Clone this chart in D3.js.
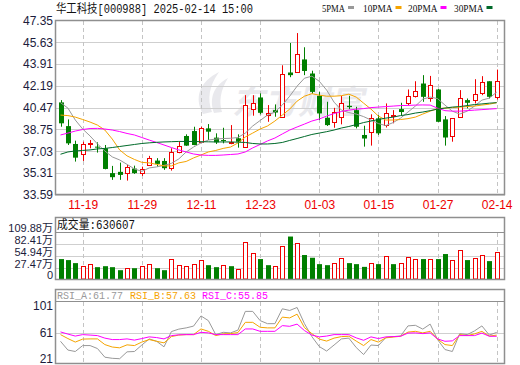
<!DOCTYPE html>
<html><head><meta charset="utf-8">
<script src="https://cdn.jsdelivr.net/npm/d3@7"></script>
<style>body{margin:0;background:#fff}svg{display:block}</style>
</head><body>
<svg id="c" width="520" height="365"></svg>
<script>
// ---------------- data ----------------
const title = "华工科技[000988] 2025-02-14 15:00";
const dates = ["11-14","11-15","11-18","11-19","11-20","11-21","11-22","11-25","11-26","11-27","11-28","11-29",
"12-02","12-03","12-04","12-05","12-06","12-09","12-10","12-11","12-12","12-13","12-16","12-17","12-18","12-19","12-20","12-23",
"12-24","12-25","12-26","12-27","12-30","12-31","01-02","01-03","01-06","01-07","01-08","01-09","01-10","01-13","01-14","01-15",
"01-16","01-17","01-20","01-21","01-22","01-23","01-24","01-27","02-05","02-06","02-07","02-10","02-11","02-12","02-13","02-14"];
const dateTicks = ["11-19","11-29","12-11","12-23","01-03","01-15","01-27","02-14"];
const open  = [40.88,39.01,37.60,36.79,37.56,37.39,37.26,35.30,35.40,35.30,35.66,35.34,35.95,36.29,36.26,35.69,36.99,38.23,38.62,37.78,
38.83,38.10,37.91,37.70,38.05,37.39,40.35,41.27,39.88,40.27,39.70,43.24,43.29,44.27,43.16,41.40,39.67,39.31,39.75,40.61,
40.27,38.31,38.52,39.62,39.09,39.82,40.35,40.80,41.41,42.37,41.22,41.90,39.54,38.25,39.75,41.06,41.10,41.59,42.55,41.27];
const close = [39.23,37.65,36.52,37.58,37.64,37.31,35.63,34.98,35.16,35.81,35.30,35.66,36.50,36.03,35.69,36.95,37.44,37.47,37.52,38.83,
38.57,37.73,37.84,37.76,37.78,40.67,40.80,40.06,40.01,40.08,43.16,43.03,44.73,43.36,41.71,40.01,39.09,40.09,40.80,40.51,
38.96,38.03,39.64,38.44,40.01,39.86,40.12,41.41,41.81,41.32,42.24,39.35,38.11,39.62,41.19,40.85,41.51,42.51,41.32,42.59];
const high  = [41.06,39.54,37.86,37.78,37.91,37.73,37.52,35.87,36.13,35.95,35.89,35.81,36.66,36.48,36.48,37.26,37.78,38.36,38.96,38.96,
39.17,38.44,38.88,39.09,38.36,41.45,41.45,41.59,40.67,40.72,43.81,45.57,46.35,45.23,43.38,41.71,40.93,40.45,41.40,41.40,
40.53,39.04,39.94,39.88,40.80,40.27,40.85,41.90,42.55,43.03,42.97,41.96,39.80,39.62,41.85,41.19,42.71,42.95,42.55,43.47];
const low   = [38.96,37.52,36.21,36.26,37.26,36.92,35.60,34.77,34.77,34.71,35.24,35.08,35.87,35.81,35.56,35.50,36.87,37.45,37.50,37.73,
37.91,37.60,37.65,37.58,37.31,37.37,39.83,39.94,39.35,39.75,39.68,42.87,43.27,43.03,41.57,39.49,39.02,38.88,39.15,40.35,
38.83,37.39,37.47,38.31,38.90,39.23,39.88,40.67,41.27,40.93,40.93,39.33,37.47,37.78,39.70,40.41,40.80,41.45,41.19,41.11];
const ma5  = [40.86,40.43,39.49,38.78,38.23,37.60,37.05,36.58,36.34,35.99,35.63,35.44,35.71,35.79,35.91,36.07,36.42,36.97,37.36,37.68,
37.91,37.99,38.03,38.05,38.11,38.46,39.02,39.45,39.88,40.12,40.67,41.37,42.16,42.79,42.95,42.55,41.85,40.90,40.27,40.08,
39.96,39.76,39.49,39.21,39.05,39.29,39.64,40.12,40.59,41.14,41.30,41.18,40.67,40.19,39.96,40.19,40.59,41.06,41.22,41.69];
const ma10 = [39.88,39.84,39.72,39.53,39.33,39.09,38.70,37.99,37.13,36.66,36.38,36.15,36.11,35.99,35.87,35.87,36.11,36.22,36.50,36.73,
36.97,37.09,37.25,37.36,37.68,38.15,38.46,38.78,39.02,39.41,39.88,40.35,40.98,41.37,41.57,41.45,41.37,41.37,41.41,41.53,
41.30,40.82,40.35,39.80,39.49,39.49,39.53,39.60,39.72,39.96,40.19,40.39,40.43,40.47,40.51,40.55,40.59,40.67,40.74,40.86];
const ma20 = [38.31,38.46,38.62,38.74,38.82,38.83,38.78,38.70,38.58,38.43,38.31,38.11,37.91,37.72,37.52,37.32,37.13,36.97,36.81,36.73,
36.70,36.70,36.73,36.77,36.81,36.97,37.29,37.56,37.84,38.07,38.39,38.70,38.94,39.17,39.41,39.57,39.80,40.00,40.16,40.27,
40.35,40.39,40.47,40.51,40.55,40.59,40.63,40.64,40.67,40.68,40.67,40.43,40.23,40.19,40.19,40.23,40.27,40.31,40.35,40.39];
const ma30 = [36.79,36.97,37.05,37.09,37.13,37.21,37.25,37.32,37.40,37.48,37.56,37.64,37.69,37.73,37.76,37.78,37.80,37.80,37.80,37.78,
37.77,37.76,37.76,37.76,37.74,37.72,37.64,37.60,37.60,37.64,37.72,37.88,38.03,38.19,38.35,38.46,38.57,38.70,38.86,38.98,
39.13,39.29,39.41,39.53,39.64,39.72,39.84,39.92,40.04,40.12,40.23,40.35,40.43,40.51,40.55,40.63,40.71,40.76,40.82,40.86];
// volume in 万 (10k shares)
const volume = [47.5,45.1,38.0,30.8,34.8,28.5,30.8,28.5,21.4,27.7,26.1,30.8,34.8,26.1,21.4,47.5,33.2,30.8,34.8,44.3,
33.2,28.5,33.2,30.8,25.3,87.1,61.0,47.5,33.2,30.8,78.3,100.4,84.7,57.0,50.6,35.6,33.2,37.2,49.1,38.0,
35.6,29.2,37.2,35.6,54.6,35.6,37.2,51.5,47.5,47.5,47.5,47.5,59.3,44.3,68.1,45.1,49.8,56.2,42.7,63.0607];
// 1 = up day (red), 0 = down day (green) for volume
const volUp = [0,0,0,1,1,0,0,0,0,1,0,1,1,0,0,1,1,1,1,1,0,0,1,0,1,1,1,0,0,1,1,0,1,0,0,0,0,1,1,0,0,0,1,0,1,0,1,1,1,0,1,0,0,1,1,0,1,1,0,1];
const rsiA = [48.3,35.0,32.8,41.8,41.8,37.3,24.2,22.5,21.9,32.3,32.8,42.6,51.9,48.3,39.9,63.0,66.7,68.6,71.3,86.7,
79.6,58.4,61.9,61.0,65.2,93.6,93.6,79.6,75.0,75.0,97.5,95.0,99.5,75.0,55.4,40.3,33.5,42.6,51.9,53.1,
38.8,28.2,42.6,41.8,53.9,55.4,56.2,71.6,72.5,66.7,74.3,50.9,35.8,32.8,59.9,58.4,64.0,71.6,57.7,61.77];
const rsiB = [58.4,52.4,47.1,51.6,51.9,51.9,43.3,39.6,38.4,42.9,41.8,47.1,50.9,48.3,45.9,55.4,57.7,58.4,58.4,67.0,
63.4,56.9,59.5,59.9,61.5,77.0,77.0,69.5,68.6,68.6,84.9,83.7,89.4,69.0,59.9,51.6,48.6,53.1,55.4,55.9,
48.6,41.8,50.9,47.1,53.5,54.7,55.9,62.2,63.4,61.0,63.4,51.6,43.3,41.8,58.4,56.9,59.5,63.3,56.2,57.63];
const rsiC = [62.5,59.2,56.2,58.4,57.7,56.9,53.1,50.9,50.9,51.9,50.1,52.4,55.0,53.9,51.9,56.9,58.1,58.4,58.4,61.9,
61.0,58.4,58.4,58.4,58.4,67.0,67.0,63.4,63.4,63.4,72.0,71.0,74.3,64.5,57.7,55.0,56.2,58.4,58.4,58.4,
53.5,49.8,55.0,52.4,55.0,55.4,55.9,60.7,61.0,59.9,61.0,51.9,48.3,48.9,56.9,56.9,56.9,60.7,55.9,55.85];
const priceTicks = [47.35,45.63,43.91,42.19,40.47,38.75,37.03,35.31,33.59];
const volTicks = [0,27.47,54.94,82.41,109.88];
const rsiTicks = [21,61,101];
const maNames = ["5PMA","10PMA","20PMA","30PMA"];
const rsiNames = ["RSI_A","RSI_B","RSI_C"];

// ---------------- layout ----------------
const L = 55, R = 505;
const C_RED = "#f00000", C_GREEN = "#007f00";
const maColors = ["#999999","#f5a400","#ff00ff","#006a2a"];
const rsiColors = ["#999999","#f5a400","#ff00ff"];
const GRID = "#cfcfcf", BORDER = "#8f8f8f";
const svg = d3.select("#c");

const x = d3.scalePoint().domain(dates).range([60.5, 496.7]);
const y = d3.scaleLinear().domain([33.59, 47.35]).range([194.8, 20.4]);
const vy = d3.scaleLinear().domain([0, 109.88]).range([279.3, 232.5]);
const ry = d3.scaleLinear().domain([21, 101]).range([359.3, 306.5]);
const cxr = d => Math.round(x(d));

// watermark
const wm = svg.append("g").attr("fill", "#e9e9ed");
wm.append("path").attr("d", "M203,114 C194,98 199,82 219,72 C209,86 207,99 212,112 Z M214,113 C209,99 213,86 228,78 C220,91 219,102 222,112 Z");
wm.append("g").attr("transform", "translate(232,114) skewX(-12)")
  .append("text").attr("font-family", "Noto Sans CJK SC").attr("font-weight", "bold")
  .attr("font-size", 33).attr("textLength", 132).attr("lengthAdjust", "spacingAndGlyphs").text("东方财富");

// ---------------- main panel grid ----------------
const gMain = svg.append("g");
gMain.selectAll("line.hg").data(priceTicks).join("line")
  .attr("x1", L).attr("x2", R).attr("y1", d => Math.round(y(d)) + 0.5).attr("y2", d => Math.round(y(d)) + 0.5)
  .attr("stroke", GRID);
function vgrid(g, y1, y2) {
  g.selectAll("line.vg").data(dateTicks).join("line")
    .attr("x1", d => cxr(d) + 0.5).attr("x2", d => cxr(d) + 0.5).attr("y1", y1).attr("y2", y2)
    .attr("stroke", "#c4c4c4").attr("stroke-dasharray", "4,3");
}
vgrid(gMain, 21, 194);

// price axis labels
const ya = svg.append("g").attr("transform", `translate(${L - 2},0)`)
  .call(d3.axisLeft(y).tickValues(priceTicks).tickSize(0).tickPadding(0).tickFormat(d3.format(".2f")));
ya.select(".domain").remove();
ya.selectAll("text").attr("font-family", "Liberation Sans, Arial").attr("font-size", 12).attr("fill", "#1c1c3c");

// date labels
const xa = svg.append("g").attr("transform", "translate(0,195)")
  .call(d3.axisBottom(x).tickValues(dateTicks).tickSize(0).tickPadding(5));
xa.select(".domain").remove();
xa.selectAll("text").attr("font-family", "Liberation Sans, Arial").attr("font-size", 12).attr("fill", "#ee0000");

// ---------------- candles ----------------
const idx = d3.range(dates.length);
const gC = svg.append("g");
gC.selectAll("line.wick").data(idx).join("line")
  .attr("x1", i => cxr(dates[i]) + 0.5).attr("x2", i => cxr(dates[i]) + 0.5)
  .attr("y1", i => y(high[i])).attr("y2", i => y(low[i]))
  .attr("stroke", i => close[i] >= open[i] ? C_RED : C_GREEN).attr("stroke-width", 1);
gC.selectAll("rect.body").data(idx).join("rect")
  .each(function (i) {
    const up = close[i] >= open[i];
    const top = y(Math.max(open[i], close[i])), bot = y(Math.min(open[i], close[i]));
    const c = cxr(dates[i]);
    const s = d3.select(this);
    if (up) {
      s.attr("x", c - 1.5).attr("width", 4).attr("y", Math.round(top) + 0.5)
       .attr("height", Math.max(1, Math.round(bot) - Math.round(top)))
       .attr("fill", "#fff").attr("stroke", C_RED).attr("stroke-width", 1);
    } else {
      s.attr("x", c - 2).attr("width", 5).attr("y", top).attr("height", Math.max(1, bot - top))
       .attr("fill", C_GREEN);
    }
  });

// MA lines
const maData = [ma5, ma10, ma20, ma30];
const line = d3.line().x((d, i) => x(dates[i])).y(d => y(d));
svg.append("g").selectAll("path").data(maData).join("path")
  .attr("d", d => line(d)).attr("fill", "none")
  .attr("stroke", (d, k) => maColors[k]).attr("stroke-width", 1);

// main border
svg.append("rect").attr("x", L + 0.5).attr("y", 20.5).attr("width", R - L - 1).attr("height", 174)
  .attr("fill", "none").attr("stroke", BORDER).attr("stroke-width", 1.5);

// title
svg.append("text").attr("x", 56).attr("y", 13).attr("font-family", "Liberation Mono, Noto Sans CJK SC")
  .attr("font-size", 12).attr("fill", "#111").attr("textLength", 197).attr("lengthAdjust", "spacingAndGlyphs").text(title);

// legend
const legX = [322, 363, 408, 454];
const leg = svg.append("g").selectAll("g").data(maNames).join("g")
  .attr("transform", (d, k) => `translate(${legX[k]},0)`);
leg.append("text").attr("x", 0).attr("y", 12).attr("font-family", "Liberation Serif, Times New Roman")
  .attr("font-size", 10).attr("fill", "#111").attr("textLength", (d) => d.length === 4 ? 23 : 29.5)
  .attr("lengthAdjust", "spacingAndGlyphs").text(d => d);
leg.append("rect").attr("x", d => (d.length === 4 ? 23 : 29.5) + 3).attr("y", 6).attr("width", 6).attr("height", 3)
  .attr("fill", (d, k) => maColors[k]);

// ---------------- volume panel ----------------
const gV = svg.append("g");
gV.selectAll("line.hg").data(volTicks.slice(1, 4)).join("line")
  .attr("x1", L).attr("x2", R).attr("y1", d => Math.round(vy(d)) + 0.5).attr("y2", d => Math.round(vy(d)) + 0.5)
  .attr("stroke", GRID);
vgrid(gV, 233, 279);
gV.selectAll("rect.vol").data(idx).join("rect")
  .each(function (i) {
    const c = cxr(dates[i]);
    const t = vy(volume[i]), b = vy(0);
    const s = d3.select(this);
    if (volUp[i]) {
      s.attr("x", c - 1.5).attr("width", 4).attr("y", Math.round(t) + 0.5).attr("height", Math.round(b) - Math.round(t) - 0.5)
       .attr("fill", "#fff").attr("stroke", C_RED).attr("stroke-width", 1);
    } else {
      s.attr("x", c - 2).attr("width", 5).attr("y", t).attr("height", b - t).attr("fill", C_GREEN);
    }
  });
svg.append("rect").attr("x", L + 0.5).attr("y", 217.5).attr("width", R - L - 1).attr("height", 62)
  .attr("fill", "none").attr("stroke", BORDER).attr("stroke-width", 1.5);
svg.append("line").attr("x1", L).attr("x2", R).attr("y1", 232.5).attr("y2", 232.5).attr("stroke", BORDER).attr("stroke-width", 1.2);
const va = svg.append("g").attr("transform", `translate(${L - 2},0)`)
  .call(d3.axisLeft(vy).tickValues(volTicks).tickSize(0).tickPadding(0)
    .tickFormat(d => d === 0 ? "0" : d3.format(".2f")(d) + "万"));
va.select(".domain").remove();
va.selectAll("text").attr("dy", "-0.05em").attr("font-family", "Liberation Sans, Arial, Noto Sans CJK SC")
  .attr("font-size", 11).attr("fill", "#1c1c3c");
svg.append("text").attr("x", 57).attr("y", 229).attr("font-family", "Liberation Mono, Noto Sans CJK SC")
  .attr("font-size", 12).attr("fill", "#111").attr("textLength", 78).attr("lengthAdjust", "spacingAndGlyphs")
  .text("成交量:" + Math.round(volume[volume.length - 1] * 10000));

// ---------------- RSI panel ----------------
const gR = svg.append("g");
gR.append("line").attr("x1", L).attr("x2", R).attr("y1", Math.round(ry(61)) + 0.5).attr("y2", Math.round(ry(61)) + 0.5).attr("stroke", GRID);
vgrid(gR, 302, 363);
const rline = d3.line().x((d, i) => x(dates[i])).y(d => ry(d));
gR.selectAll("path").data([rsiA, rsiB, rsiC]).join("path")
  .attr("d", d => rline(d)).attr("fill", "none").attr("stroke", (d, k) => rsiColors[k]).attr("stroke-width", 1);
svg.append("rect").attr("x", L + 0.5).attr("y", 289.5).attr("width", R - L - 1).attr("height", 74)
  .attr("fill", "none").attr("stroke", BORDER).attr("stroke-width", 1.5);
svg.append("line").attr("x1", L).attr("x2", R).attr("y1", 301.5).attr("y2", 301.5).attr("stroke", BORDER).attr("stroke-width", 1.2);
const ra = svg.append("g").attr("transform", `translate(${L - 2},0)`)
  .call(d3.axisLeft(ry).tickValues(rsiTicks).tickSize(0).tickPadding(0).tickFormat(d3.format("d")));
ra.select(".domain").remove();
ra.selectAll("text").attr("dy", "0.28em").attr("font-family", "Liberation Sans, Arial").attr("font-size", 12).attr("fill", "#1c1c3c");
const rsiLast = [rsiA, rsiB, rsiC].map(a => a[a.length - 1]);
const rsiX = [57, 130, 202];
svg.append("g").selectAll("text").data(rsiNames).join("text")
  .attr("x", (d, k) => rsiX[k]).attr("y", 299).attr("font-family", "Liberation Mono, DejaVu Sans Mono")
  .attr("font-size", 10).attr("fill", (d, k) => rsiColors[k])
  .text((d, k) => d + ":" + d3.format(".2f")(rsiLast[k]));
</script>
</body></html>
